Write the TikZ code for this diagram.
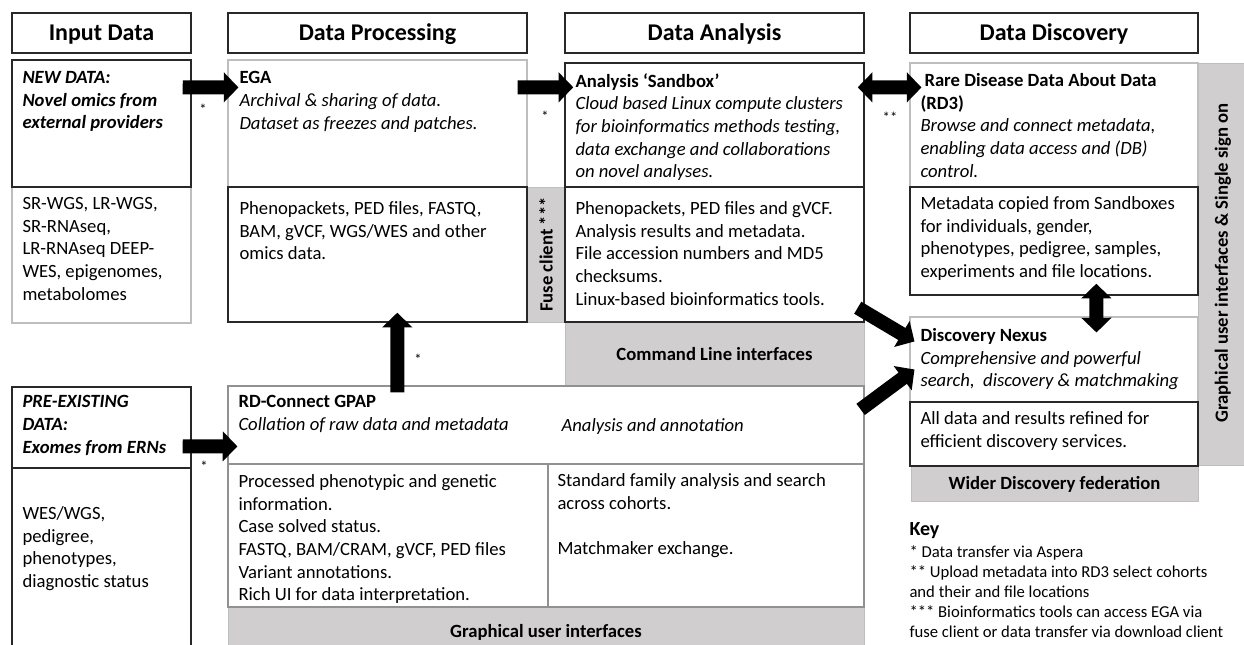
\documentclass[tikz,border=0pt]{standalone}
\usepackage{fontspec}
\setmainfont{Carlito}
\usetikzlibrary{arrows.meta,fit,calc}

\definecolor{panelgray}{RGB}{208,206,206}
\definecolor{darkline}{RGB}{40,40,40}
\definecolor{lightline}{RGB}{190,190,190}
\definecolor{midline}{RGB}{145,145,145}

\newcommand\bodyfont{\fontsize{14}{17}\selectfont}
\newcommand\keyfont{\fontsize{12.5}{15}\selectfont}

\tikzset{every picture/.style={line width=0.75pt},
  hdrbox/.style={draw=darkline, line width=1.1pt, inner sep=0pt},
  hdrtext/.style={anchor=base, yshift=-5.8pt, inner sep=0pt, font=\fontsize{18}{21}\selectfont\bfseries},
  darkbox/.style={draw=darkline, line width=1.1pt, inner sep=0pt},
  lightbox/.style={draw=lightline, line width=0.8pt, inner sep=0pt},
  midbox/.style={draw=midline, line width=0.9pt, inner sep=0pt},
  graypanel/.style={fill=panelgray, draw=lightline, line width=0.6pt, inner sep=0pt},
  paneltext/.style={anchor=base, yshift=-4.5pt, inner sep=0pt, font=\bodyfont\bfseries},
  bodytext/.style={anchor=north west, inner sep=0pt, align=left, font=\bodyfont},
  sidetext/.style={rotate=90, inner sep=0pt, font=\bodyfont\bfseries},
  startext/.style={inner sep=0pt, font=\fontsize{11}{13}\selectfont},
  blockarrow/.style={line width=10.5pt, -{Triangle[length=11pt,width=22pt]}},
  dblarrow/.style={line width=10.5pt, {Triangle[length=11pt,width=22pt]}-{Triangle[length=11pt,width=22pt]}}
}

\begin{document}
\begin{tikzpicture}[x=0.75pt,y=0.75pt,yscale=-1,xscale=1]
\useasboundingbox (0,0) rectangle (1244,645);

%Shape: Gray panels
\node[graypanel, fit={(527,187) (565,322)}] (fuse) {};
\node[graypanel, fit={(565,322) (864,386)}] (cmdline) {};
\node[graypanel, fit={(911,466) (1198,501)}] (wider) {};
\node[graypanel, fit={(1198,63) (1252,465)}] (guisso) {};
\node[graypanel, fit={(228,607) (864,655)}] (guipanel) {};

%Shape: Column headers
\node[hdrbox, fit={(12,13) (191,53)}] (inputhdr) {};
\node[hdrbox, fit={(228,13) (527,53)}] (prochdr) {};
\node[hdrbox, fit={(565,13) (864,53)}] (anahdr) {};
\node[hdrbox, fit={(910,13) (1198,53)}] (dischdr) {};

%Shape: Boxes
\node[lightbox, fit={(12,187) (191,323)}] (newraw) {};
\node[darkbox, fit={(12,60) (191,187)}] (newdata) {};
\node[lightbox, fit={(228,60) (527,187)}] (ega) {};
\node[darkbox, fit={(228,187) (527,322)}] (procdata) {};
\node[darkbox, fit={(565,63) (864,187)}] (sandbox) {};
\node[darkbox, fit={(565,187) (864,322)}] (anadata) {};
\node[lightbox, fit={(910,63) (1198,187)}] (rdthree) {};
\node[darkbox, fit={(910,187) (1198,295)}] (rdmeta) {};
\node[lightbox, fit={(910,317) (1198,402)}] (nexus) {};
\node[darkbox, fit={(910,402) (1198,466)}] (nexusdata) {};
\node[darkbox, fit={(12,387) (191,468)}] (preexist) {};
\node[darkbox, fit={(12,468) (191,655)}] (preraw) {};
\node[midbox, fit={(228,386) (864,464)}] (gpap) {};
\node[midbox, fit={(228,464) (548,607)}] (gpapleft) {};
\node[midbox, fit={(548,464) (864,607)}] (gpapright) {};

% Text Node: headers and panels
\node[hdrtext] (inputlbl) at (inputhdr.center) {Input Data};
\node[hdrtext] (proclbl) at (prochdr.center) {Data Processing};
\node[hdrtext] (analbl) at (anahdr.center) {Data Analysis};
\node[hdrtext] (dislbl) at (dischdr.center) {Data Discovery};
\node[paneltext] (cmdlbl) at (cmdline.center) {Command Line interfaces};
\node[paneltext] (widerlbl) at (wider.center) {Wider Discovery federation};
\node[paneltext] (guilbl) at (546,631) {Graphical user interfaces};
\node[sidetext] (fusetxt) at (fuse.center) {Fuse client ***};
\node[sidetext] (ssotxt) at (1223,263) {Graphical user interfaces \& Single sign on};

% Text Node
\node[bodytext, font=\bodyfont\bfseries\itshape] (newtxt) at (22,71) {NEW DATA:\\Novel omics from\\external providers};
\node[bodytext] (newlist) at (22,197) {SR-WGS, LR-WGS,\\SR-RNAseq,\\LR-RNAseq DEEP-\\WES, epigenomes,\\metabolomes};
\node[bodytext] (egatxt) at (239,71) {{\bfseries EGA}\\{\itshape Archival \& sharing of data.}\\{\itshape Dataset as freezes and patches.}};
\node[bodytext] (proclist) at (239,201) {Phenopackets, PED files, FASTQ,\\BAM, gVCF, WGS/WES and other\\omics data.};
\node[bodytext] (sandtxt) at (575,73) {{\bfseries Analysis ‘Sandbox’}\\{\itshape Cloud based Linux compute clusters}\\{\itshape for bioinformatics methods testing,}\\{\itshape data exchange and collaborations}\\{\itshape on novel analyses.}};
\node[bodytext] (analist) at (575,201) {Phenopackets, PED files and gVCF.\\Analysis results and metadata.\\File accession numbers and MD5\\checksums.\\Linux-based bioinformatics tools.};
\node[bodytext] (rdtxt) at (920,73) {{\bfseries\hspace*{3pt}Rare Disease Data About Data}\\{\bfseries (RD3)}\\{\itshape Browse and connect metadata,}\\{\itshape enabling data access and (DB)}\\{\itshape control.}};
\node[bodytext] (rdlist) at (920,196) {Metadata copied from Sandboxes\\for individuals, gender,\\phenotypes, pedigree, samples,\\experiments and file locations.};
\node[bodytext] (nexustxt) at (920,328) {{\bfseries Discovery Nexus}\\{\itshape Comprehensive and powerful}\\{\itshape search,\ \ discovery \& matchmaking}};
\node[bodytext] (nexuslist) at (920,411) {All data and results refined for\\efficient discovery services.};
\node[bodytext, font=\bodyfont\bfseries\itshape] (pretxt) at (22,395) {PRE-EXISTING\\DATA:\\Exomes from ERNs};
\node[bodytext] (prelist) at (22,506) {WES/WGS,\\pedigree,\\phenotypes,\\diagnostic status};
\node[bodytext] (gpaptxt) at (238,395) {{\bfseries RD-Connect GPAP}\\{\itshape Collation of raw data and metadata}};
\node[bodytext, font=\bodyfont\itshape] (annotxt) at (561,418) {Analysis and annotation};
\node[bodytext] (gpaplist) at (238,474) {Processed phenotypic and genetic\\information.\\Case solved status.\\FASTQ, BAM/CRAM, gVCF, PED files\\Variant annotations.\\Rich UI for data interpretation.};
\node[bodytext] (familylist) at (557,473) {Standard family analysis and search\\across cohorts.\\[17pt]Matchmaker exchange.};
\node[bodytext, font=\fontsize{15}{17}\selectfont\bfseries] (keyhead) at (909,522) {Key};
\node[bodytext, font=\keyfont] (keylist) at (909,545) {* Data transfer via Aspera\\** Upload metadata into RD3 select cohorts\\and their and file locations\\*** Bioinformatics tools can access EGA via\\fuse client or data transfer via download client};

% Text Node: transfer marks
\node[startext] (star1) at (203,109) {*};
\node[startext] (star2) at (545,116) {*};
\node[startext] (star3) at (890,117) {**};
\node[startext] (star4) at (418,359) {*};
\node[startext] (star5) at (204,466) {*};

%Straight Lines: block arrows
\draw[blockarrow] ($(newdata.north east)+(-9,28)$) -- ($(ega.north west)+(11,28)$);
\draw[blockarrow] ($(ega.north east)+(-10,28)$) -- ($(sandbox.north west)+(9,25)$);
\draw[dblarrow] ($(sandbox.north east)+(-7,25)$) -- ($(rdthree.north west)+(12,25)$);
\draw[dblarrow] ($(rdmeta.south west)+(187,-12)$) -- ($(nexus.north west)+(187,16)$);
\draw[blockarrow] ($(anadata.south east)+(-7,-15)$) -- ($(nexus.north west)+(5,25)$);
\draw[blockarrow] ($(gpap.north east)+(-4,24)$) -- ($(nexus.north west)+(5,53)$);
\draw[blockarrow] ($(gpap.north west)+(170,7)$) -- ($(procdata.south west)+(170,-10)$);
\draw[blockarrow] ($(preexist.north east)+(-9,60)$) -- ($(gpap.north west)+(10,61)$);

\end{tikzpicture}
\end{document}
